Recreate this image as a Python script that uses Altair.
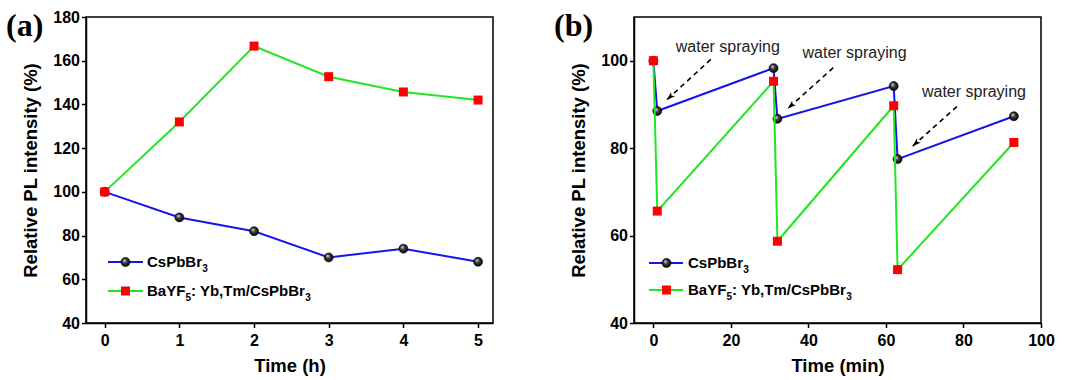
import math
import altair as alt
import pandas as pd

# ---- data -------------------------------------------------------------
# (a) relative PL intensity versus storage time
hours = [0, 1, 2, 3, 4, 5]
cspbbr3_a = [100, 88.3, 82.0, 70.0, 74.0, 68.0]
bayf5_a = [100, 132.0, 166.7, 152.7, 145.7, 142.0]

# (b) relative PL intensity through three water-spraying cycles
minutes = [0, 1, 31, 32, 62, 63, 93]
cspbbr3_b = [100, 88.5, 98.3, 86.7, 94.2, 77.5, 87.3]
bayf5_b = [100, 65.6, 95.3, 58.7, 89.7, 52.2, 81.3]

# annotation arrows in (b): dashed shaft from start to end (arrow tip)
arrow_x0 = [14.8, 46.4, 78.3]
arrow_y0 = [100.3, 98.4, 89.5]
arrow_x1 = [3.4, 34.6, 66.8]
arrow_y1 = [91.0, 89.0, 80.4]
note_x = [19.2, 51.9, 82.7]
note_y = [103.2, 101.8, 92.8]
note_text = ["water spraying", "water spraying", "water spraying"]

# ---- style ------------------------------------------------------------
SANS = "Liberation Sans, Arial, sans-serif"
SERIF = "Liberation Serif, Times New Roman, serif"
BLUE = "#1414ee"
GREEN = "#22e622"
RED = "#ff0000"
W, H = 407, 306
Y_TITLE = "Relative PL intensity (%)"

BALL = alt.Gradient(
    gradient="radial",
    stops=[
        alt.GradientStop(color="#e8e8e8", offset=0),
        alt.GradientStop(color="#3a3a3a", offset=0.45),
        alt.GradientStop(color="#000000", offset=1),
    ],
    x1=0.35, y1=0.3, r1=0, x2=0.5, y2=0.5, r2=0.55,
)
# arrow head with its tip at the symbol origin, pointing up before rotation
HEAD = "M0,0 L0.55,1.7 L0,1.25 L-0.55,1.7 Z"

one_row = pd.DataFrame({"k": [0]})


def legend_layers(x_line0, x_line1, x_mark, x_text, y1, y2):
    def txt(s, x, y, size):
        return alt.Chart(one_row).mark_text(
            text=s, align="left", baseline="middle", font=SANS,
            fontWeight="bold", fontSize=size, color="black",
        ).encode(x=alt.value(x), y=alt.value(y))

    def rule(y, color):
        return alt.Chart(one_row).mark_rule(color=color, strokeWidth=2).encode(
            x=alt.value(x_line0), x2=alt.value(x_line1), y=alt.value(y)
        )

    ball = alt.Chart(one_row).mark_point(
        shape="circle", filled=True, fill=BALL, stroke="#000", strokeWidth=0.6,
        size=81, opacity=1,
    ).encode(x=alt.value(x_mark), y=alt.value(y1))
    square = alt.Chart(one_row).mark_square(size=81, color=RED, opacity=1).encode(
        x=alt.value(x_mark), y=alt.value(y2)
    )
    return [
        rule(y1, BLUE), ball,
        txt("CsPbBr", x_text, y1, 15), txt("3", x_text + 55.2, y1 + 7, 10),
        rule(y2, GREEN), square,
        txt("BaYF", x_text, y2, 15), txt("5", x_text + 38.4, y2 + 7, 10),
        txt(": Yb,Tm/CsPbBr", x_text + 44.0, y2, 15),
        txt("3", x_text + 158.3, y2 + 7, 10),
    ]


def panel(t, cs, ba, xdom, ydom, xticks, yticks, xtitle, tag, leg, extra=()):
    x_enc = alt.X(
        "t:Q",
        scale=alt.Scale(domain=xdom, nice=False, zero=False),
        axis=alt.Axis(values=xticks, title=xtitle, labelFlush=False, format="d"),
    )
    y_enc = alt.Y(
        "v:Q",
        scale=alt.Scale(domain=ydom, nice=False, zero=False),
        axis=alt.Axis(values=yticks, title=Y_TITLE, format="d"),
    )
    cs_df = pd.DataFrame({"t": t, "v": cs})
    ba_df = pd.DataFrame({"t": t, "v": ba})

    cs_line = alt.Chart(cs_df).mark_line(color=BLUE, strokeWidth=2).encode(x=x_enc, y=y_enc)
    cs_pts = alt.Chart(cs_df).mark_point(
        shape="circle", filled=True, fill=BALL, stroke="#000", strokeWidth=0.6,
        size=81, opacity=1,
    ).encode(x="t:Q", y="v:Q")
    ba_line = alt.Chart(ba_df).mark_line(color=GREEN, strokeWidth=2).encode(x="t:Q", y="v:Q")
    ba_pts = alt.Chart(ba_df).mark_square(size=81, color=RED, opacity=1).encode(
        x="t:Q", y="v:Q"
    )
    label = alt.Chart(one_row).mark_text(
        text=tag, align="left", baseline="alphabetic", font=SERIF,
        fontWeight="bold", fontSize=32, color="black",
    ).encode(x=alt.value(-80), y=alt.value(19))

    layers = [cs_line, cs_pts, ba_line, ba_pts, *extra, *legend_layers(*leg), label]
    return alt.layer(*layers).properties(width=W, height=H)


# ---- arrows for (b) ---------------------------------------------------
xdom_b, ydom_b = [-5, 100], [40, 110]
sx = W / (xdom_b[1] - xdom_b[0])
sy = H / (ydom_b[1] - ydom_b[0])
angles = []
for a, b, c, d in zip(arrow_x0, arrow_y0, arrow_x1, arrow_y1):
    dx = (c - a) * sx
    dy = -(d - b) * sy
    angles.append(math.degrees(math.atan2(dx, -dy)) % 360)

arrows = pd.DataFrame({
    "t": arrow_x0, "v": arrow_y0, "t2": arrow_x1, "v2": arrow_y1, "ang": angles,
})
notes = pd.DataFrame({"t": note_x, "v": note_y, "label": note_text})

shaft = alt.Chart(arrows).mark_rule(
    color="black", strokeWidth=1.6, strokeDash=[5, 4]
).encode(x="t:Q", y="v:Q", x2="t2:Q", y2="v2:Q")
head = alt.Chart(arrows).mark_point(
    shape=HEAD, filled=True, color="black", size=110, opacity=1
).encode(x="t2:Q", y="v2:Q", angle=alt.Angle("ang:Q", scale=None))
note = alt.Chart(notes).mark_text(
    font=SANS, fontSize=16, color="#222222", align="center", baseline="middle"
).encode(x="t:Q", y="v:Q", text="label:N")

panel_a = panel(
    hours, cspbbr3_a, bayf5_a, [-0.25, 5.2], [40, 180],
    [0, 1, 2, 3, 4, 5], list(range(40, 181, 20)), "Time (h)", "(a)",
    (22, 57, 39.5, 61, 245, 274),
)
panel_b = panel(
    minutes, cspbbr3_b, bayf5_b, xdom_b, ydom_b,
    list(range(0, 101, 20)), [40, 60, 80, 100], "Time (min)", "(b)",
    (15, 49, 32.5, 54, 246, 273),
    extra=(shaft, head, note),
)

chart = (
    alt.hconcat(panel_a, panel_b, spacing=59,
                padding={"left": 5, "top": 8, "right": 5, "bottom": 0})
    .configure_view(stroke="black", strokeWidth=1.5)
    .configure_axis(
        grid=False,
        domainColor="black", domainWidth=1.5,
        tickColor="black", tickWidth=1.5, tickSize=4.5,
        labelFont=SANS, labelFontWeight="bold", labelFontSize=16,
        labelColor="black", labelPadding=2,
        titleFont=SANS, titleFontWeight="bold", titleFontSize=18.5,
        titleColor="black",
    )
    .configure_axisY(titlePadding=12)
    .configure_axisX(titlePadding=8, labelPadding=5)
)

chart.save("out.html", embed_options={"renderer": "svg", "actions": False})
